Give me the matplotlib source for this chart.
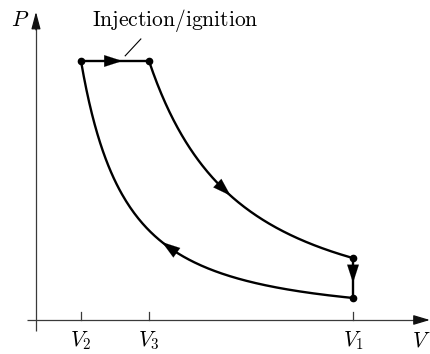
import numpy as np
import matplotlib
matplotlib.use("Agg")
import matplotlib.pyplot as plt

plt.rcParams['mathtext.fontset'] = 'cm'

# state points of the cycle (V in units of V2, P arbitrary)
state_names = ['1', '2', '3', '4']
state_V = [5.0, 1.0, 2.0, 5.0]
state_P = [0.85, 10.0, 10.0, 2.39]
tick_V = [1.0, 2.0, 5.0]
tick_labels = [r'$V_2$', r'$V_3$', r'$V_1$']

V1, V2, V3, V4 = state_V
P1, P2, P3, P4 = state_P

fig = plt.figure(figsize=(4.30, 3.54), dpi=100)
ax = fig.add_axes([0, 0, 1, 1])
ax.set_xlim(-0.191, 6.132)
ax.set_ylim(-1.313, 12.355)
ax.axis('off')

# axes
ax_col = '#3a3a3a'
ax_x0 = 0.338
ax.plot([0.206, 6.0], [0, 0], color=ax_col, lw=0.9, solid_capstyle='butt')
ax.plot([ax_x0, ax_x0], [-0.42, 11.5], color=ax_col, lw=0.9, solid_capstyle='butt')
ax.annotate('', xy=(6.13, 0), xytext=(5.9, 0),
            arrowprops=dict(arrowstyle='-|>,head_length=1.0,head_width=0.3',
                            mutation_scale=10, color='#111111', lw=0.9,
                            shrinkA=0, shrinkB=0))
ax.annotate('', xy=(ax_x0, 11.9), xytext=(ax_x0, 11.2),
            arrowprops=dict(arrowstyle='-|>,head_length=1.05,head_width=0.28',
                            mutation_scale=10, color='#111111', lw=0.9,
                            shrinkA=0, shrinkB=0))
for v, lab in zip(tick_V, tick_labels):
    ax.plot([v, v], [0, 0.31], color=ax_col, lw=0.9)
    ax.text(v, -0.78, lab, ha='center', va='center', fontsize=15.5)
ax.text(5.86, -0.78, r'$V$', ha='left', va='center', fontsize=15.5)
ax.text(0.11, 11.58, r'$P$', ha='center', va='center', fontsize=15.5)

# processes
lw = 1.7
n_comp = np.log(P2 / P1) / np.log(V1 / V2)
n_exp = np.log(P3 / P4) / np.log(V4 / V3)
Vc = np.linspace(V2, V1, 200)
Pc = P1 * (V1 / Vc) ** n_comp
Ve = np.linspace(V3, V4, 200)
Pe = P3 * (V3 / Ve) ** n_exp
ax.plot(Vc, Pc, color='k', lw=lw)
ax.plot(Ve, Pe, color='k', lw=lw)
ax.plot([V2, V3], [P2, P3], color='k', lw=lw)
ax.plot([V4, V1], [P4, P1], color='k', lw=lw)
ax.plot(state_V, state_P, 'o', color='k', ms=4.5)

def arrow(x0, y0, x1, y1):
    ax.annotate('', xy=(x1, y1), xytext=(x0, y0),
                arrowprops=dict(arrowstyle='-|>,head_length=1.3,head_width=0.42',
                                mutation_scale=10, color='k', lw=0.1,
                                shrinkA=0, shrinkB=0))

arrow(1.45, P2, 1.61, P2)
arrow(V1, 1.9, V1, 1.43)
va, vb = 3.05, 3.20
arrow(va, P3 * (V3 / va) ** n_exp, vb, P3 * (V3 / vb) ** n_exp)
va, vb = 2.38, 2.19
arrow(va, P1 * (V1 / va) ** n_comp, vb, P1 * (V1 / vb) ** n_comp)

# annotation
ax.text(1.16, 11.55, r'$\mathrm{Injection/ignition}$', ha='left', va='center', fontsize=15.5)
ax.plot([1.88, 1.65], [10.85, 10.2], color='k', lw=0.8)

fig.savefig('out.png', dpi=100)
